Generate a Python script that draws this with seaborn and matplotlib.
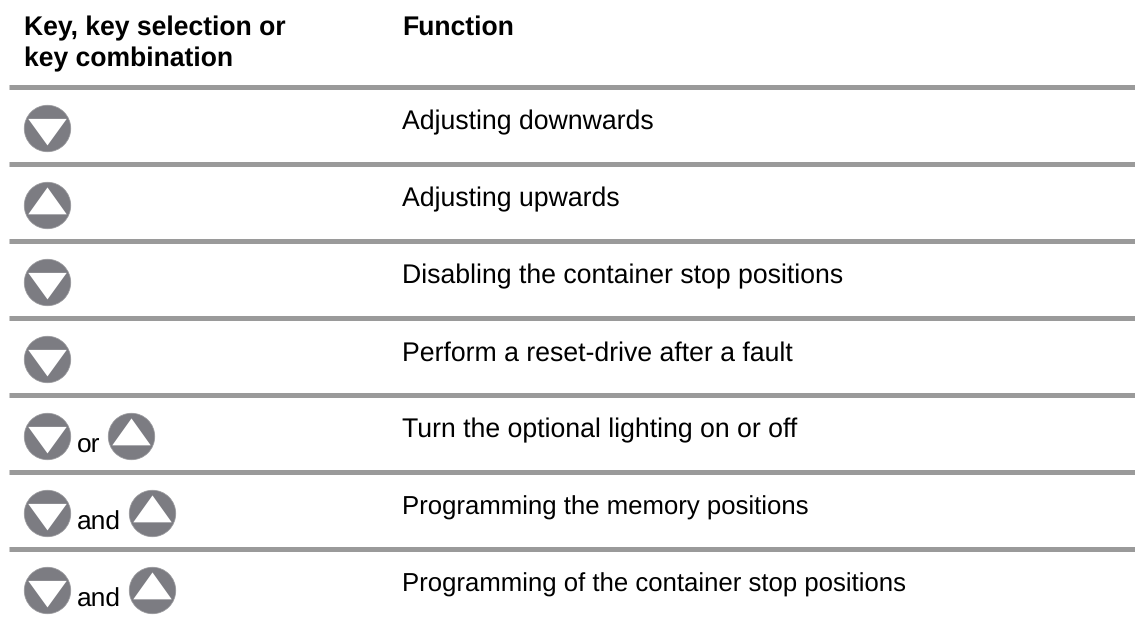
import matplotlib

matplotlib.use("Agg")

import matplotlib.pyplot as plt
import pandas as pd
import seaborn as sns
from matplotlib.path import Path

# Table content
header_key_lines = ["Key, key selection or", "key combination"]
header_function = "Function"
functions = [
    "Adjusting downwards",
    "Adjusting upwards",
    "Disabling the container stop positions",
    "Perform a reset-drive after a fault",
    "Turn the optional lighting on or off",
    "Programming the memory positions",
    "Programming of the container stop positions",
]
first_keys = ["down", "up", "down", "down", "down", "down", "down"]
joiners = [None, None, None, None, "or", "and", "and"]
second_keys = [None, None, None, None, "up", "up", "up"]

RULE_COLOR = "#9a9a9a"
KEY_COLOR = "#7c7c82"
KEY_EDGE = "#97979b"
FONT = "Liberation Sans"
DPI = 100
HEAD_SIZE = 19.1
BODY_SIZE = 19.15
JOINER_SIZE = 19
# the last two rows run slightly narrower in the original
LAST_ROWS_SIZE = 18.55


def px_size(px):
    # scatter sizes are points squared
    return (px * 72 / DPI) ** 2


DOWN_MARK = Path([(-1, 0.5), (1, 0.5), (0, -0.88), (-1, 0.5)], closed=True)
UP_MARK = Path([(-1, -0.46), (1, -0.46), (0, 0.94), (-1, -0.46)], closed=True)


def draw_keys(ax, frame):
    # one disc per key, the triangle on top of it
    sns.scatterplot(
        data=frame, x="x", y="row", ax=ax, s=px_size(46.5), color=KEY_COLOR,
        marker="o", edgecolor=KEY_EDGE, linewidth=0.5, legend=False, zorder=3,
    )
    for direction, mark in (("down", DOWN_MARK), ("up", UP_MARK)):
        sns.scatterplot(
            data=frame[frame["key"] == direction], x="x", y="row", ax=ax,
            s=px_size(38.5), color="white", marker=mark, linewidth=0,
            legend=False, zorder=4,
        )


def main():
    sns.set_theme(style="white")
    plt.rcParams["font.family"] = [FONT, "DejaVu Sans"]
    plt.rcParams["text.hinting"] = "no_hinting"

    fig = plt.figure(figsize=(11.35, 6.2), dpi=DPI)
    ax = fig.add_axes([0, 0, 1, 1])

    # x in pixels, y in table rows (77 px each, row 0 centred at 127.5 px)
    ax.set_xlim(0, 1135)
    ax.set_ylim((620 - 127.5) / 77, -127.5 / 77)
    ax.axis("off")

    rows = list(range(len(functions)))
    first = pd.DataFrame({"x": 46.5, "row": rows, "key": first_keys})
    draw_keys(ax, first)

    second_x = {"or": 130.5, "and": 151.5}
    second = pd.DataFrame(
        [
            {"x": second_x[j], "row": r, "key": k}
            for r, j, k in zip(rows, joiners, second_keys)
            if k is not None
        ]
    )
    draw_keys(ax, second)

    # rules sit above each row
    for r in rows:
        ax.plot([9, 1135], [r - 0.52, r - 0.52], color=RULE_COLOR, lw=3.6,
                solid_capstyle="butt", zorder=2)

    for y, line in zip((-1.2, -0.79), header_key_lines):
        ax.text(24, y, line, fontsize=HEAD_SIZE, fontweight="bold", color="black",
                va="baseline", ha="left")
    ax.text(402, -1.2, header_function, fontsize=HEAD_SIZE, fontweight="bold",
            color="black", va="baseline", ha="left")

    for r, label in enumerate(functions):
        size = LAST_ROWS_SIZE if r >= 5 else BODY_SIZE
        ax.text(402, r + 0.028, label, fontsize=size, color="black",
                va="baseline", ha="left")
    for r, joiner in enumerate(joiners):
        if joiner:
            ax.text(76.5, r + 0.22, joiner, fontsize=JOINER_SIZE, color="black",
                    va="baseline", ha="left")

    fig.savefig("out.png", dpi=DPI, facecolor="white")


if __name__ == "__main__":
    main()
